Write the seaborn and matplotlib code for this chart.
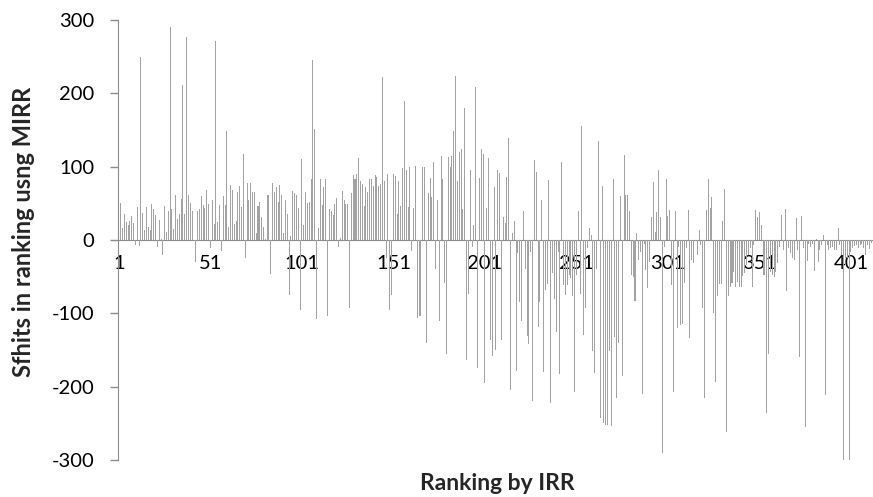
import numpy as np
import pandas as pd
import matplotlib
matplotlib.use("Agg")
import matplotlib.pyplot as plt
import seaborn as sns

# Shifts in ranking (MIRR vs IRR), by ranking segment
shifts_a = [8, 50, 17, 35, 25, 20, 26, 33, 23, -7,
            45, -8, 249, 37, 14, 45, 18, 14, 49, 42,
            34, -10, 27, 2, -20, 46, 11, 40, 291, 42,
            15, 62, 28, 35, 56, 212, 36, 277, 62, 50,
            40, 0, -30, 40, 42, 60, 48, 43, 68, 49]
shifts_b = [-11, 55, 22, 271, 25, 48, -15, 60, 48, 149,
            18, 75, 68, 22, 26, 65, 74, 45, 117, -24,
            78, 55, 78, 65, 65, 10, 46, 52, 32, 18,
            2, 62, 62, -47, 78, 66, 72, 52, 75, 62,
            10, 55, 36, -75, 6, 67, 64, 62, 43, -95]
shifts_c = [110, 20, 65, 50, 52, 83, 245, 152, -108, 16,
            83, 48, 72, 83, -103, 42, 39, 34, 49, 57,
            -10, 3, 67, 55, 49, 49, -93, 64, 89, 83,
            90, 112, 81, 76, 46, 72, 66, 83, 83, 74,
            89, 86, 74, 76, 222, 80, -25, 90, -95, -75]
shifts_d = [90, 87, 35, 80, 46, 98, 190, 96, 45, 99,
            -15, 43, 101, -106, -103, -103, 99, 100, -141, 64,
            84, 59, 107, -40, 55, -110, 115, 83, -58, -155,
            113, 99, 115, 149, 224, 81, 120, 124, 42, 180,
            -164, -73, 95, -10, 20, 209, -174, 85, 124, 117]
shifts_e = [-195, 44, 112, -136, -158, 72, -150, 96, 92, -136,
            32, 23, 86, 139, -205, 10, 26, -179, -18, -84,
            -110, 40, -39, -131, -142, -17, -220, 109, 93, -118,
            -84, 55, -180, -68, -60, 82, -222, -45, -80, -125,
            -17, -183, 106, -62, -75, -61, -48, -52, -77, -207,
            -48]
shifts_f = [40, -73, 156, -130, -93, -11, 16, 7, -151, -182,
            -39, 135, -243, 73, -250, -252, -252, -152, -253, 83,
            -132, -216, -141, 60, -185, 116, 62, 62, 40, -48,
            -50, -83, 9, -27, -16, -210, -6, -41, -66, -30,
            31, 79, 11, 38, 95, 31, -290, -9, 83, 33,
            41, -62, -207, 40, -120, -9, -116, -115]
shifts_g = [-59, -11, 41, -134, -27, -32, -2, -21, 14, -7,
            -93, -216, 41, 83, 44, 58, -100, -193, -77, -60,
            -60, 26, 70, -262, -77, -64, -59, -43, -64, -57,
            -64, -64, -49, -45, -34, -20, -11, -64, -7, 41,
            32, 38, 20, -48, -48, -236, -155, -43, -48, -50]
shifts_h = [-43, -32, -10, 34, -14, 42, -70, -11, -18, -25,
            -27, 30, -14, -159, 33, -11, -255, -29, -6, -9,
            -5, -42, 2, -30, -14, -7, 7, -211, -7, -14,
            -11, -9, -14, -14, 16, -7, -20, -302, -25, -25,
            -302, -16, -11, -8, -7, -11, -7, -6, -11, -21,
            -7, -12, -4]

shifts = shifts_a + shifts_b + shifts_c + shifts_d + shifts_e + shifts_f + shifts_g + shifts_h
ranks = list(range(1, len(shifts) + 1))
tick_ranks = [1, 51, 101, 151, 201, 251, 301, 351, 401]
y_ticks = [-300, -200, -100, 0, 100, 200, 300]

df = pd.DataFrame({"rank": ranks, "shift": shifts})

sns.set_style("white")
plt.rcParams["font.family"] = ["Lato", "DejaVu Sans"]

fig = plt.figure(figsize=(8.73, 4.97), dpi=100)
ax = fig.add_axes([118 / 873, 1 - 460 / 497, 754 / 873, 440 / 497])

sns.barplot(data=df, x="rank", y="shift", color="#a3a3a3", saturation=1,
            width=0.55, ax=ax, errorbar=None, linewidth=0)

ax.set_xlim(-0.5, len(shifts) - 0.5)
ax.set_ylim(-300, 300)
ax.set_yticks(y_ticks)
ax.set_yticklabels([str(v) for v in y_ticks])
ax.set_xticks([r - 1 for r in tick_ranks])
ax.set_xticklabels([str(r) for r in tick_ranks])

for s in ["top", "right"]:
    ax.spines[s].set_visible(False)
ax.spines["bottom"].set_position(("data", 0))
ax.spines["bottom"].set_color("#8c8c8c")
ax.spines["left"].set_color("#8c8c8c")
ax.spines["bottom"].set_zorder(0.5)

ax.tick_params(axis="y", length=6, width=1, color="#8c8c8c", pad=11,
               labelsize=14.5, labelcolor="black", left=True)
ax.tick_params(axis="x", length=0, pad=11, labelsize=14.5, labelcolor="black")

ax.set_xlabel("")
ax.set_ylabel("")
fig.text(497 / 873, 1 - 483 / 497, "Ranking by IRR", ha="center", va="center",
         fontsize=16.5, fontweight="bold")
fig.text(24 / 873, 1 - 232 / 497, "Sfhits in ranking usng MIRR", ha="center",
         va="center", rotation=90, fontsize=17, fontweight="bold")

fig.savefig("out.png", dpi=100)
